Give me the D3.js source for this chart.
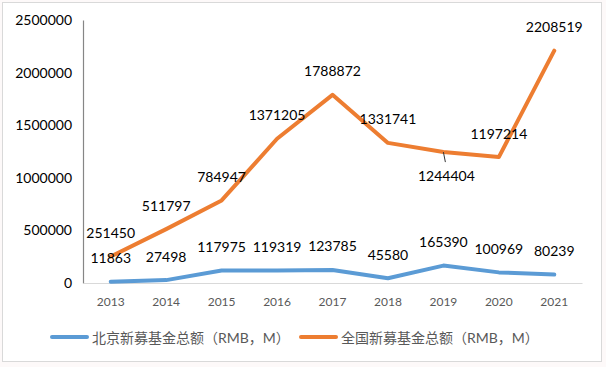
<!DOCTYPE html>
<html>
<head>
<meta charset="utf-8">
<script src="https://cdn.jsdelivr.net/npm/d3@7"></script>
<style>
  body { margin: 0; background: #fdf9f9; }
  svg { display: block; }
</style>
</head>
<body>
<svg id="chart"></svg>
<script>
let width = 606
let height = 367

let years = ['2013', '2014', '2015', '2016', '2017', '2018', '2019', '2020', '2021']
let beijing = [11863, 27498, 117975, 119319, 123785, 45580, 165390, 100969, 80239]
let national = [251450, 511797, 784947, 1371205, 1788872, 1331741, 1244404, 1197214, 2208519]
let yTicks = [0, 500000, 1000000, 1500000, 2000000, 2500000]
let seriesNames = ['北京新募基金总额（RMB，M）', '全国新募基金总额（RMB，M）']
let colors = ['#5b9bd5', '#ed7d31']

let svg = d3.select('#chart').attr('width', width).attr('height', height)
let numFont = 'Lato, "Liberation Sans", sans-serif'

// chart box
svg.append('rect')
   .attr('x', 2.5).attr('y', 2.5)
   .attr('width', 599).attr('height', 359)
   .attr('fill', '#ffffff')
   .attr('stroke', '#d9d9d9')

let xScale = d3.scaleBand().domain(years).range([83, 582]).padding(0)
let yScale = d3.scaleLinear().domain([0, 2500000]).range([283, 20])
let cx = (d) => xScale(d) + xScale.bandwidth() / 2

// y axis
let yAxis = d3.axisLeft(yScale).tickValues(yTicks).tickSize(0).tickPadding(11).tickFormat(d3.format('d'))
let gy = svg.append('g').attr('transform', 'translate(83,0)').call(yAxis)
gy.select('.domain').attr('stroke', '#868686').attr('stroke-width', 1.2)
gy.selectAll('text').attr('font-family', numFont).attr('font-size', 14).attr('fill', '#000')

// x axis
let xAxis = d3.axisBottom(xScale).tickSize(0).tickPadding(14)
let gx = svg.append('g').attr('transform', 'translate(0,283)').call(xAxis)
gx.select('.domain').attr('stroke', '#d9d9d9')
gx.selectAll('text').attr('font-family', numFont).attr('font-size', 12).attr('fill', '#595959')

let line = d3.line().x((d, i) => cx(years[i])).y((d) => yScale(d))

let allSeries = [beijing, national]
allSeries.forEach((s, k) => {
  svg.append('path')
     .attr('d', line(s))
     .attr('fill', 'none')
     .attr('stroke', colors[k])
     .attr('stroke-width', 4)
     .attr('stroke-linejoin', 'round')
     .attr('stroke-linecap', 'round')
})

// data labels
allSeries.forEach((s, k) => {
  svg.selectAll('.lbl' + k)
     .data(s)
     .enter()
     .append('text')
     .attr('x', (d, i) => cx(years[i]) + ((k == 1 && i == 6) ? 3 : 0))
     .attr('y', (d, i) => yScale(d) + ((k == 1 && i == 6) ? 23 : -24))
     .attr('text-anchor', 'middle')
     .attr('dominant-baseline', 'central')
     .attr('font-family', numFont)
     .attr('font-size', 14)
     .attr('fill', '#000')
     .text((d) => d)
})

// leader line for 2019 national label
svg.append('line')
   .attr('x1', cx('2019')).attr('y1', yScale(national[6]))
   .attr('x2', cx('2019') + 2).attr('y2', yScale(national[6]) + 10)
   .attr('stroke', '#333')
   .attr('stroke-width', 1)

// legend
let legendX = [52, 301]
seriesNames.forEach((name, k) => {
  let g = svg.append('g').attr('transform', 'translate(' + legendX[k] + ',337)')
  g.append('line').attr('x1', 0).attr('x2', 35).attr('y1', 0).attr('y2', 0)
   .attr('stroke', colors[k]).attr('stroke-width', 4).attr('stroke-linecap', 'round')
  g.append('text').attr('x', 40).attr('y', 0)
   .attr('dominant-baseline', 'central')
   .attr('font-family', 'Lato, "Noto Sans CJK SC", sans-serif')
   .attr('font-size', 14)
   .attr('fill', '#595959')
   .text(name)
})
</script>
</body>
</html>
